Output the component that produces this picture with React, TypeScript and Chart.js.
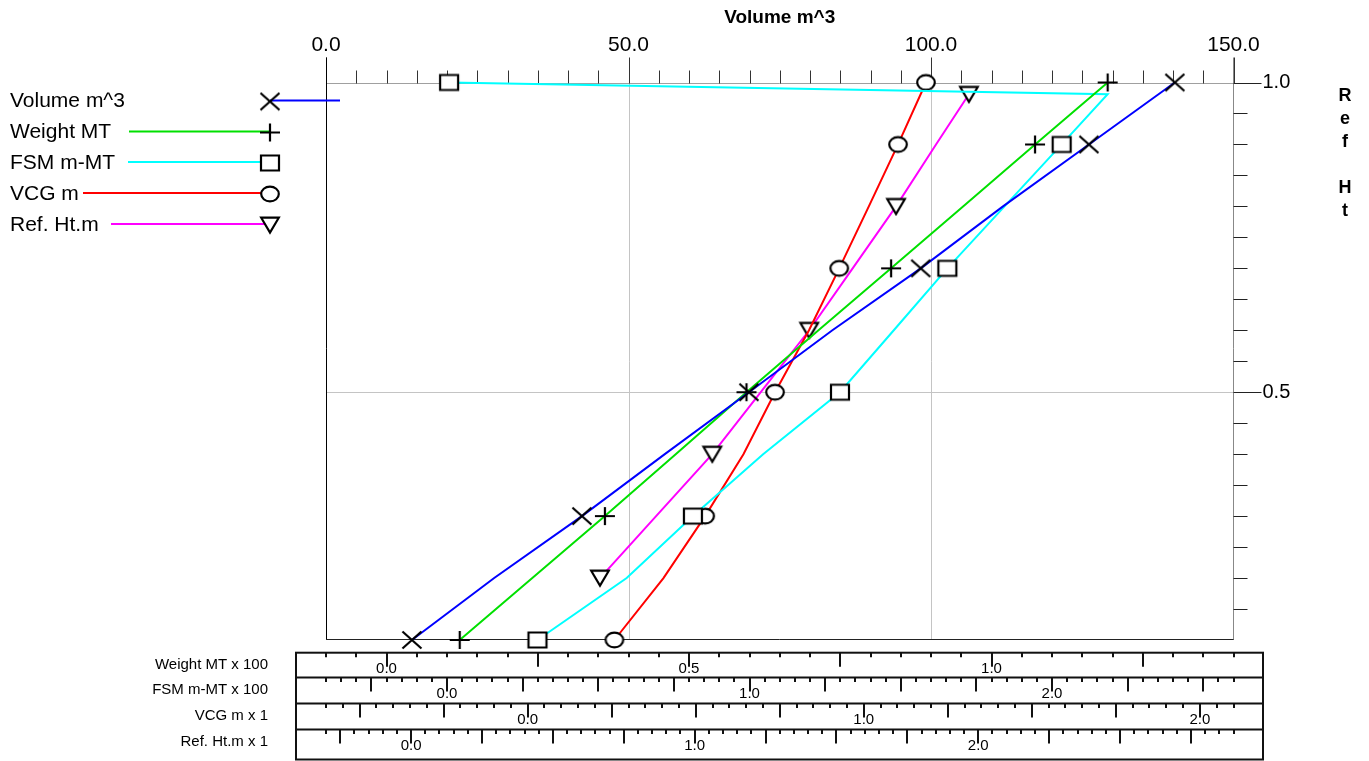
import React, { useEffect, useRef } from "react";
import { Chart, registerables } from "chart.js";

Chart.register(...registerables);

// ---------- data ----------
const REF_LEVELS = [1.0, 0.9, 0.8, 0.7, 0.6, 0.5, 0.4, 0.3, 0.2, 0.1];
const VOLUME_M3 = [140.3, 126.1, 111.9, 98.3, 83.7, 69.9, 56.0, 42.3, 27.8, 14.2];
const VOLUME_MARKED = [1, 1, 0, 1, 0, 1, 0, 1, 0, 1];

const WEIGHT_MT_X100 = [1.192, 1.072, 0.953, 0.834, 0.714, 0.595, 0.478, 0.361, 0.241, 0.121];
const WEIGHT_MARKED = [1, 1, 0, 1, 0, 1, 0, 1, 0, 1];

const FSM_LEVELS = [1.0, 0.981, 0.9, 0.8, 0.7, 0.6, 0.5, 0.4, 0.3, 0.2, 0.1];
const FSM_MMT_X100 = [0.007, 2.184, 2.032, 1.843, 1.654, 1.477, 1.299, 1.045, 0.813, 0.594, 0.299];
const FSM_MARKED = [1, 0, 1, 0, 1, 0, 1, 0, 1, 0, 1];

const VCG_M = [1.185, 1.102, 1.015, 0.927, 0.837, 0.736, 0.642, 0.528, 0.404, 0.258];
const VCG_MARKED = [1, 1, 0, 1, 0, 1, 0, 1, 0, 1];

const REFHT_LEVELS = [0.981, 0.9, 0.8, 0.7, 0.6, 0.5, 0.4, 0.3, 0.2];
const REFHT_M = [1.967, 1.851, 1.71, 1.557, 1.404, 1.233, 1.062, 0.864, 0.666];
const REFHT_MARKED = [1, 0, 1, 0, 1, 0, 1, 0, 1];

// axis ranges
const VOLUME_RANGE = [0, 150];
const WEIGHT_RANGE = [-0.1, 1.4];
const FSM_RANGE = [-0.4, 2.6];
const VCG_RANGE = [-0.6, 2.1];
const REFHT_RANGE = [-0.3, 2.9];
const Y_RANGE = [0.1, 1.0];

const TOP_TICK_LABELS = [0, 50, 100, 150];
const RIGHT_TICK_LABELS = [1.0, 0.5];

const SERIES_NAMES = ["Volume m^3", "Weight MT", "FSM m-MT", "VCG m", "Ref. Ht.m"];
const BOTTOM_AXIS_NAMES = ["Weight MT x 100", "FSM m-MT x 100", "VCG m x 1", "Ref. Ht.m x 1"];
const BOTTOM_LABEL_STEPS = [0.5, 1, 1, 1];

// ---------- styling ----------
const FONT = '"Liberation Sans", Arial, sans-serif';
const COLORS = ["#0000ff", "#00e000", "#00ffff", "#ff0000", "#ff00ff"];
const GRID = "#c4c4c4";

function makeMarker(kind: string): HTMLCanvasElement {
  const c = document.createElement("canvas");
  c.width = 24;
  c.height = 20;
  const g = c.getContext("2d")!;
  const cx = 12, cy = 10;
  g.lineWidth = 2.2;
  g.strokeStyle = "#000";
  g.fillStyle = "#fff";
  g.beginPath();
  if (kind === "x") {
    g.moveTo(cx - 9.5, cy - 8.5); g.lineTo(cx + 9.5, cy + 8.5);
    g.moveTo(cx + 9.5, cy - 8.5); g.lineTo(cx - 9.5, cy + 8.5);
    g.stroke();
  } else if (kind === "plus") {
    g.moveTo(cx - 10, cy); g.lineTo(cx + 10, cy);
    g.moveTo(cx, cy - 9); g.lineTo(cx, cy + 9);
    g.stroke();
  } else if (kind === "square") {
    g.rect(cx - 9, cy - 7.5, 18, 15);
    g.fill(); g.stroke();
  } else if (kind === "circle") {
    g.ellipse(cx, cy, 8.8, 7.4, 0, 0, Math.PI * 2);
    g.fill(); g.stroke();
  } else {
    g.moveTo(cx - 8.8, cy - 7.3); g.lineTo(cx + 8.8, cy - 7.3); g.lineTo(cx, cy + 7.6); g.closePath();
    g.fill(); g.stroke();
  }
  return c;
}

export default function App() {
  const ref = useRef<HTMLCanvasElement>(null);

  useEffect(() => {
    const canvas = ref.current!;
    const markers = ["x", "plus", "square", "circle", "triangle"].map(makeMarker);

    const mk = (levels: number[], vals: number[]) => vals.map((v, i) => ({ x: v, y: levels[i] }));
    const seriesDefs = [
      { data: mk(REF_LEVELS, VOLUME_M3), marked: VOLUME_MARKED, axis: "x" },
      { data: mk(REF_LEVELS, WEIGHT_MT_X100), marked: WEIGHT_MARKED, axis: "xWeight" },
      { data: mk(FSM_LEVELS, FSM_MMT_X100), marked: FSM_MARKED, axis: "xFsm" },
      { data: mk(REF_LEVELS, VCG_M), marked: VCG_MARKED, axis: "xVcg" },
      { data: mk(REFHT_LEVELS, REFHT_M), marked: REFHT_MARKED, axis: "xRef" },
    ];

    const datasets: any[] = seriesDefs.map((s, i) => ({
      label: SERIES_NAMES[i],
      data: s.data,
      xAxisID: s.axis,
      yAxisID: "y",
      borderColor: COLORS[i],
      backgroundColor: COLORS[i],
      borderWidth: 2,
      tension: 0,
      fill: false,
      clip: false,
      pointStyle: markers[i],
      pointRadius: s.marked.map((m) => (m ? 6 : 0)),
      pointHoverRadius: s.marked.map((m) => (m ? 6 : 0)),
    }));

    const hiddenX = (r: number[]) => ({ type: "linear", axis: "x", min: r[0], max: r[1], display: false });

    const decor = {
      id: "decor",
      beforeDatasetsDraw(chart: any) {
        const { ctx, chartArea: a, scales } = chart;
        const x = scales.x, y = scales.y;
        ctx.save();
        ctx.lineWidth = 1;
        // grid
        ctx.strokeStyle = GRID;
        [50, 100].forEach((v) => {
          const px = Math.round(x.getPixelForValue(v)) + 0.5;
          ctx.beginPath(); ctx.moveTo(px, a.top); ctx.lineTo(px, a.bottom); ctx.stroke();
        });
        [0.5].forEach((v) => {
          const py = Math.round(y.getPixelForValue(v)) + 0.5;
          ctx.beginPath(); ctx.moveTo(a.left, py); ctx.lineTo(a.right, py); ctx.stroke();
        });
        // top line (1.0)
        ctx.strokeStyle = "#a0a0a0";
        const topY = Math.round(y.getPixelForValue(1.0)) + 0.5;
        ctx.beginPath(); ctx.moveTo(a.left, topY); ctx.lineTo(a.right, topY); ctx.stroke();

        // top axis ticks
        ctx.strokeStyle = "#333";
        for (let v = VOLUME_RANGE[0]; v <= VOLUME_RANGE[1] + 1e-9; v += 5) {
          const px = Math.round(x.getPixelForValue(v)) + 0.5;
          const major = v % 50 === 0;
          ctx.beginPath(); ctx.moveTo(px, topY); ctx.lineTo(px, topY - (major ? 26 : 13)); ctx.stroke();
        }
        // left axis line
        ctx.strokeStyle = "#000";
        const lx = Math.round(a.left) + 0.5;
        ctx.beginPath(); ctx.moveTo(lx, topY - 26); ctx.lineTo(lx, a.bottom); ctx.stroke();
        // right axis line
        ctx.strokeStyle = "#888";
        const rx = Math.round(a.right) - 0.5;
        ctx.beginPath(); ctx.moveTo(rx, topY - 26); ctx.lineTo(rx, a.bottom); ctx.stroke();
        // right ticks
        ctx.strokeStyle = "#222";
        for (let n = 3; n <= 20; n++) {
          const v = n * 0.05;
          const py = Math.round(y.getPixelForValue(v)) + 0.5;
          const major = n % 10 === 0;
          ctx.beginPath(); ctx.moveTo(rx, py); ctx.lineTo(rx + (major ? 28 : 14), py); ctx.stroke();
        }
        // bottom axis line
        ctx.strokeStyle = "#222";
        const by = Math.round(a.bottom) - 0.5;
        ctx.beginPath(); ctx.moveTo(a.left, by); ctx.lineTo(a.right, by); ctx.stroke();
        ctx.restore();
      },
      afterDraw(chart: any) {
        const { ctx, chartArea: a, scales } = chart;
        const x = scales.x, y = scales.y;
        ctx.save();
        ctx.fillStyle = "#000";
        // title
        ctx.font = `bold 19px ${FONT}`;
        ctx.textAlign = "center";
        ctx.textBaseline = "middle";
        ctx.fillText("Volume m^3", (a.left + a.right) / 2, 18);
        // top tick labels
        ctx.font = `21px ${FONT}`;
        ctx.textBaseline = "alphabetic";
        TOP_TICK_LABELS.forEach((v) => ctx.fillText(v.toFixed(1), x.getPixelForValue(v), 51));
        // right tick labels
        ctx.font = `20px ${FONT}`;
        ctx.textAlign = "left";
        ctx.textBaseline = "middle";
        RIGHT_TICK_LABELS.forEach((v) => ctx.fillText(v.toFixed(1), a.right + 29, y.getPixelForValue(v)));
        // right axis title (vertical letters)
        ctx.font = `bold 18px ${FONT}`;
        ctx.textAlign = "center";
        const letters = ["R", "e", "f", "", "H", "t"];
        letters.forEach((ch, i) => ctx.fillText(ch, 1345, 96 + i * 23));

        // legend
        const rowY = [100.5, 131.5, 162, 193, 224];
        const lineStart = [null, 129, 128, 83, 111];
        ctx.font = `21px ${FONT}`;
        ctx.textAlign = "left";
        ctx.textBaseline = "middle";
        SERIES_NAMES.forEach((name, i) => {
          ctx.fillStyle = "#000";
          ctx.fillText(name, 10, rowY[i] + 1);
          ctx.strokeStyle = COLORS[i];
          ctx.lineWidth = 2;
          ctx.beginPath();
          if (lineStart[i] === null) {
            ctx.moveTo(270, rowY[i]); ctx.lineTo(340, rowY[i]);
          } else {
            ctx.moveTo(lineStart[i] as number, rowY[i]); ctx.lineTo(270, rowY[i]);
          }
          ctx.stroke();
          const m = markers[i];
          ctx.drawImage(m, 270 - m.width / 2, rowY[i] + 1 - m.height / 2);
        });

        // bottom scale boxes
        const boxL = a.left - 30, boxR = a.right + 29.5;
        const rowTops = [652.7, 677.5, 703.5, 729.5];
        const boxBottom = 759.5;
        const axes = ["xWeight", "xFsm", "xVcg", "xRef"];
        ctx.strokeStyle = "#111";
        ctx.lineWidth = 2;
        ctx.strokeRect(boxL, rowTops[0], boxR - boxL, boxBottom - rowTops[0]);
        rowTops.slice(1).forEach((t) => {
          ctx.beginPath(); ctx.moveTo(boxL, t); ctx.lineTo(boxR, t); ctx.stroke();
        });
        axes.forEach((id, r) => {
          const sc = scales[id];
          const top = rowTops[r];
          ctx.strokeStyle = "#111";
          ctx.lineWidth = 2;
          const n0 = Math.ceil(sc.min / 0.05 - 1e-6), n1 = Math.floor(sc.max / 0.05 + 1e-6);
          for (let n = n0; n <= n1; n++) {
            const px = Math.round(sc.getPixelForValue(n * 0.05));
            const long = n % 5 === 0;
            ctx.beginPath(); ctx.moveTo(px, top); ctx.lineTo(px, top + (long ? 14 : 4.5)); ctx.stroke();
          }
          ctx.fillStyle = "#000";
          ctx.font = `15px ${FONT}`;
          ctx.textAlign = "center";
          ctx.textBaseline = "alphabetic";
          const step = BOTTOM_LABEL_STEPS[r];
          const k0 = Math.ceil(sc.min / step - 1e-6), k1 = Math.floor(sc.max / step + 1e-6);
          for (let k = k0; k <= k1; k++) {
            const v = k * step;
            ctx.fillText(v.toFixed(1), sc.getPixelForValue(v), top + 20.5);
          }
          ctx.textAlign = "right";
          ctx.fillText(BOTTOM_AXIS_NAMES[r], 268, top + 16);
        });
        ctx.restore();
      },
    };

    const chart = new Chart(canvas, {
      type: "line",
      data: { datasets },
      options: {
        responsive: false,
        animation: false,
        devicePixelRatio: 1,
        events: [],
        layout: { padding: { left: 326, right: 135.5, top: 82.5, bottom: 121 } },
        plugins: { legend: { display: false }, title: { display: false }, tooltip: { enabled: false } },
        scales: {
          x: hiddenX(VOLUME_RANGE),
          xWeight: hiddenX(WEIGHT_RANGE),
          xFsm: hiddenX(FSM_RANGE),
          xVcg: hiddenX(VCG_RANGE),
          xRef: hiddenX(REFHT_RANGE),
          y: { type: "linear", axis: "y", min: Y_RANGE[0], max: Y_RANGE[1], display: false },
        },
      } as any,
      plugins: [decor],
    });
    return () => chart.destroy();
  }, []);

  return (
    <div style={{ position: "fixed", left: 0, top: 0, width: 1369, height: 761, background: "#fff" }}>
      <canvas ref={ref} width={1369} height={761} style={{ display: "block", width: 1369, height: 761 }} />
    </div>
  );
}
